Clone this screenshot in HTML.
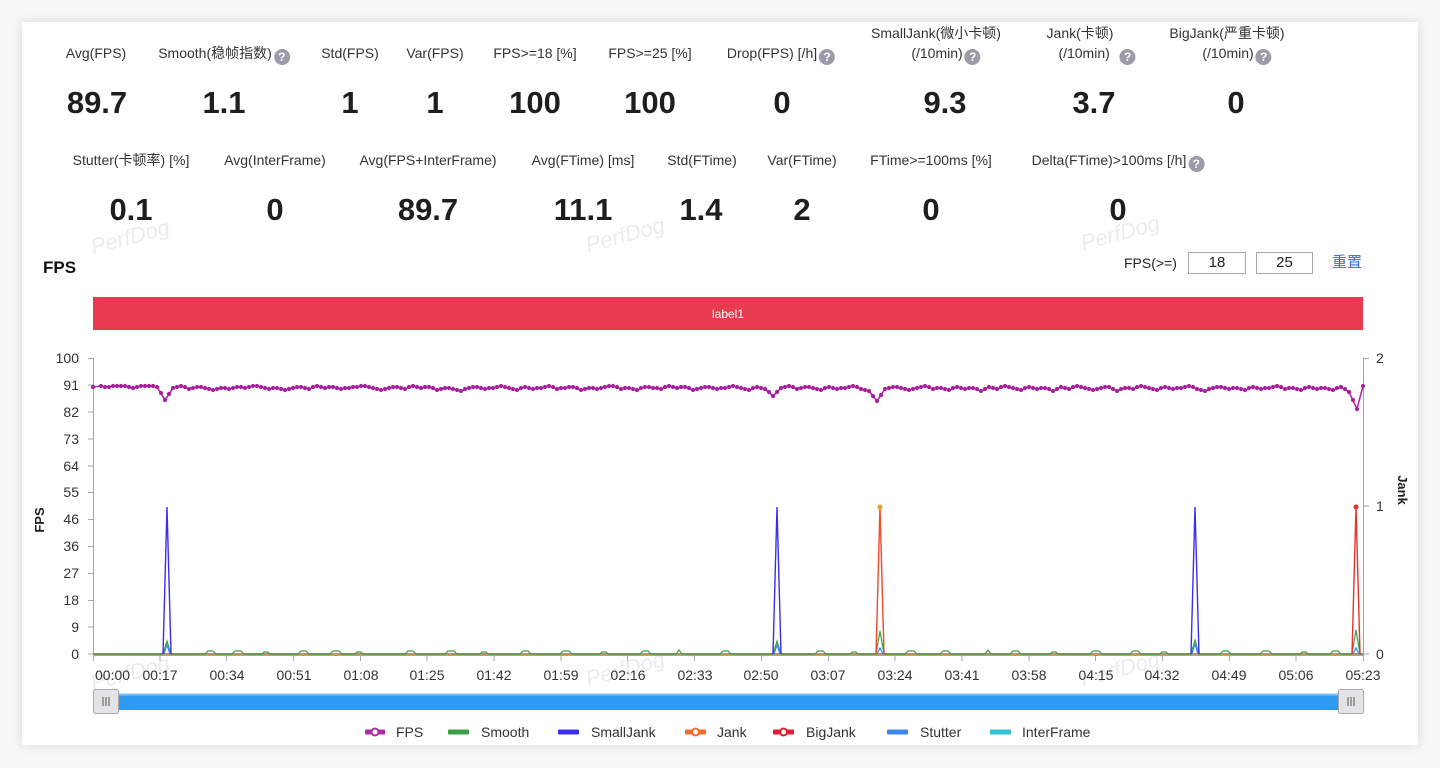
<!DOCTYPE html>
<html><head><meta charset="utf-8"><style>
html,body{margin:0;padding:0;}
body{width:1440px;height:768px;background:#f7f7f7;position:relative;overflow:hidden;font-family:"Liberation Sans","Noto Sans CJK SC",sans-serif;color:#333;}
.card{position:absolute;left:22px;top:22px;width:1396px;height:723px;background:#fff;box-shadow:0 0 10px rgba(0,0,0,0.13);}
.c{position:absolute;transform:translateX(-50%);white-space:nowrap;font-size:14px;line-height:20px;color:#333;}
.v{position:absolute;transform:translateX(-50%);white-space:nowrap;font-size:31px;line-height:36px;font-weight:bold;color:#1e1e1e;}
.q{display:inline-block;width:16px;height:16px;border-radius:50%;background:#9c9ba8;color:#fff;font-size:12px;line-height:16px;text-align:center;font-weight:bold;vertical-align:-3px;margin-left:2px;}
.inp{position:absolute;top:252px;height:20px;border:1px solid #a8a8a8;font-size:15px;line-height:20px;text-align:center;color:#222;}
svg{position:absolute;left:0;top:0;}
</style></head><body>
<div class="card"></div>

<!-- Row 1 labels -->
<div class="c" style="left:96px;top:43px">Avg(FPS)</div>
<div class="c" style="left:224px;top:43px">Smooth(稳帧指数)<span class="q">?</span></div>
<div class="c" style="left:350px;top:43px">Std(FPS)</div>
<div class="c" style="left:435px;top:43px">Var(FPS)</div>
<div class="c" style="left:535px;top:43px">FPS&gt;=18 [%]</div>
<div class="c" style="left:650px;top:43px">FPS&gt;=25 [%]</div>
<div class="c" style="left:781px;top:43px">Drop(FPS) [/h]<span class="q">?</span></div>
<div class="c" style="left:936px;top:23px">SmallJank(微小卡顿)</div>
<div class="c" style="left:946px;top:43px">(/10min)<span class="q">?</span></div>
<div class="c" style="left:1080px;top:23px">Jank(卡顿)</div>
<div class="c" style="left:1097px;top:43px">(/10min) &nbsp;<span class="q">?</span></div>
<div class="c" style="left:1227px;top:23px">BigJank(严重卡顿)</div>
<div class="c" style="left:1237px;top:43px">(/10min)<span class="q">?</span></div>

<!-- Row 1 values -->
<div class="v" style="left:97px;top:85px">89.7</div>
<div class="v" style="left:224px;top:85px">1.1</div>
<div class="v" style="left:350px;top:85px">1</div>
<div class="v" style="left:435px;top:85px">1</div>
<div class="v" style="left:535px;top:85px">100</div>
<div class="v" style="left:650px;top:85px">100</div>
<div class="v" style="left:782px;top:85px">0</div>
<div class="v" style="left:945px;top:85px">9.3</div>
<div class="v" style="left:1094px;top:85px">3.7</div>
<div class="v" style="left:1236px;top:85px">0</div>

<!-- Row 2 labels -->
<div class="c" style="left:131px;top:150px">Stutter(卡顿率) [%]</div>
<div class="c" style="left:275px;top:150px">Avg(InterFrame)</div>
<div class="c" style="left:428px;top:150px">Avg(FPS+InterFrame)</div>
<div class="c" style="left:583px;top:150px">Avg(FTime) [ms]</div>
<div class="c" style="left:702px;top:150px">Std(FTime)</div>
<div class="c" style="left:802px;top:150px">Var(FTime)</div>
<div class="c" style="left:931px;top:150px">FTime&gt;=100ms [%]</div>
<div class="c" style="left:1118px;top:150px">Delta(FTime)&gt;100ms [/h]<span class="q">?</span></div>

<!-- Row 2 values -->
<div class="v" style="left:131px;top:192px">0.1</div>
<div class="v" style="left:275px;top:192px">0</div>
<div class="v" style="left:428px;top:192px">89.7</div>
<div class="v" style="left:583px;top:192px">11.1</div>
<div class="v" style="left:701px;top:192px">1.4</div>
<div class="v" style="left:802px;top:192px">2</div>
<div class="v" style="left:931px;top:192px">0</div>
<div class="v" style="left:1118px;top:192px">0</div>

<!-- FPS title & controls -->
<div style="position:absolute;left:43px;top:257px;font-size:17px;line-height:22px;font-weight:bold;color:#111;">FPS</div>
<div style="position:absolute;left:1124px;top:253px;font-size:14px;line-height:20px;color:#222;">FPS(&gt;=)</div>
<div class="inp" style="left:1188px;width:56px;">18</div>
<div class="inp" style="left:1256px;width:55px;">25</div>
<div style="position:absolute;left:1332px;top:253px;font-size:15px;line-height:20px;color:#2d6ee0;">重置</div>

<svg width="1440" height="768" viewBox="0 0 1440 768" xmlns="http://www.w3.org/2000/svg" font-family="Liberation Sans, Noto Sans CJK SC, sans-serif">
<defs>
<marker id="m" markerWidth="6" markerHeight="6" refX="3" refY="3" markerUnits="userSpaceOnUse"><circle cx="3" cy="3" r="2.1" fill="#a8229f"/></marker>
</defs>

<!-- watermarks -->
<g fill="#ececec" font-size="22" font-style="italic">
<text transform="translate(132,244) rotate(-15)" text-anchor="middle">PerfDog</text>
<text transform="translate(627,242) rotate(-15)" text-anchor="middle">PerfDog</text>
<text transform="translate(1122,240) rotate(-15)" text-anchor="middle">PerfDog</text>
<text transform="translate(132,680) rotate(-15)" text-anchor="middle">PerfDog</text>
<text transform="translate(627,676) rotate(-15)" text-anchor="middle">PerfDog</text>
<text transform="translate(1122,676) rotate(-15)" text-anchor="middle">PerfDog</text>
</g>

<!-- label bar -->
<rect x="93" y="297" width="1270" height="33" fill="#e83b51"/>
<text x="728" y="318" text-anchor="middle" font-size="12" fill="#fff">label1</text>

<!-- axes -->
<g stroke="#a6a6a6" stroke-width="1" fill="none">
<line x1="93.5" y1="358" x2="93.5" y2="655"/>
<line x1="1363.5" y1="358" x2="1363.5" y2="655"/>
<line x1="93" y1="655.5" x2="1364" y2="655.5"/>
<path d="M88 358.5H93 M88 385H93 M88 412H93 M88 439H93 M88 466H93 M88 492.5H93 M88 519.5H93 M88 546.5H93 M88 573.5H93 M88 600.5H93 M88 627H93 M88 654H93"/>
<path d="M1364 358.5H1369 M1364 506H1369 M1364 654H1369"/>
<path d="M93.5 655V661 M160 655V661 M226.5 655V661 M293.5 655V661 M360.5 655V661 M427 655V661 M494 655V661 M561 655V661 M627.5 655V661 M694.5 655V661 M761.5 655V661 M828.5 655V661 M895 655V661 M962 655V661 M1029 655V661 M1095.5 655V661 M1162.5 655V661 M1229.5 655V661 M1296 655V661 M1363.5 655V661"/>
</g>

<!-- left y labels -->
<g font-size="14" fill="#333" text-anchor="end">
<text x="79" y="363">100</text>
<text x="79" y="390">91</text>
<text x="79" y="417">82</text>
<text x="79" y="444">73</text>
<text x="79" y="471">64</text>
<text x="79" y="497">55</text>
<text x="79" y="524">46</text>
<text x="79" y="551">36</text>
<text x="79" y="578">27</text>
<text x="79" y="605">18</text>
<text x="79" y="632">9</text>
<text x="79" y="659">0</text>
</g>
<!-- right y labels -->
<g font-size="14" fill="#333">
<text x="1376" y="363">2</text>
<text x="1376" y="511">1</text>
<text x="1376" y="659">0</text>
</g>
<text transform="translate(44,520) rotate(-90)" text-anchor="middle" font-size="13" font-weight="bold" fill="#222">FPS</text>
<text transform="translate(1398,490) rotate(90)" text-anchor="middle" font-size="13" font-weight="bold" fill="#222">Jank</text>

<!-- x labels -->
<g font-size="14" fill="#333" text-anchor="middle">
<text x="95" y="680" text-anchor="start">00:00</text>
<text x="160" y="680">00:17</text>
<text x="227" y="680">00:34</text>
<text x="294" y="680">00:51</text>
<text x="361" y="680">01:08</text>
<text x="427" y="680">01:25</text>
<text x="494" y="680">01:42</text>
<text x="561" y="680">01:59</text>
<text x="628" y="680">02:16</text>
<text x="695" y="680">02:33</text>
<text x="761" y="680">02:50</text>
<text x="828" y="680">03:07</text>
<text x="895" y="680">03:24</text>
<text x="962" y="680">03:41</text>
<text x="1029" y="680">03:58</text>
<text x="1096" y="680">04:15</text>
<text x="1162" y="680">04:32</text>
<text x="1229" y="680">04:49</text>
<text x="1296" y="680">05:06</text>
<text x="1363" y="680">05:23</text>
</g>

<!-- baseline series -->
<line x1="93" y1="654" x2="1363" y2="654" stroke="#c08e62" stroke-width="2"/>
<path fill="none" stroke="#3f9d45" stroke-width="1.2" d="M93 654 H160 L163 654 L167 641 L171 654 H205 l3 -3 h5 l3 3 H232 l3 -3 h6 l3 3 H262 l2 -2 h4 l2 2 H298 l3 -3 h5 l3 3 H330 l3 -3 h6 l3 3 H355 l2 -2 h4 l2 2 H405 l3 -3 h5 l3 3 H445 l3 -3 h6 l3 3 H480 l2 -2 h4 l2 2 H520 l3 -3 h5 l3 3 H560 l3 -3 h6 l3 3 H600 l2 -2 h4 l2 2 H640 l3 -3 h5 l3 3 H676 l3 -4 l3 4 H720 l3 -3 h5 l3 3 H773 L777 641 L781 654 H815 l3 -3 h5 l3 3 H850 l2 -2 h4 l2 2 H876 L880 631 L884 654 H905 l3 -3 h6 l3 3 H940 l3 -3 h5 l3 3 H985 l3 -4 l3 4 H1010 l3 -3 h5 l3 3 H1050 l2 -2 h4 l2 2 H1090 l3 -3 h6 l3 3 H1130 l3 -3 h5 l3 3 H1160 l2 -2 h4 l2 2 H1191 L1195 640 L1199 654 H1220 l3 -3 h5 l3 3 H1260 l3 -3 h6 l3 3 H1300 l2 -2 h4 l2 2 H1330 l3 -3 h5 l3 3 H1352 L1356 630 L1360 654 H1363"/>
<!-- stutter bumps -->
<path fill="none" stroke="#3e86f0" stroke-width="1.2" d="M164 654 L167 645 L170 654 M774 654 L777 645 L780 654 M877 654 L880 648 L883 654 M1192 654 L1195 644 L1198 654 M1353 654 L1356 648 L1359 654"/>
<!-- SmallJank spikes -->
<path fill="none" stroke="#3a2fee" stroke-width="1.4" d="M163 654 L167 507 L171 654 M773 654 L777 507 L781 654 M1191 654 L1195 507 L1199 654"/>
<!-- Jank spikes -->
<path fill="none" stroke="#ee4a2c" stroke-width="1.4" d="M876 654 L880 507 L884 654"/>
<path fill="none" stroke="#e5332e" stroke-width="1.4" d="M1352 654 L1356 507 L1360 654"/>
<circle cx="880" cy="507" r="2.5" fill="#f39a2c"/>
<circle cx="1356" cy="507" r="2.5" fill="#e3302c"/>

<!-- FPS line -->
<polyline fill="none" stroke="#b22aa8" stroke-width="1.6" marker-start="url(#m)" marker-mid="url(#m)" marker-end="url(#m)" points="93,387 101,386 109,387 117,386 125,386 133,388 141,386 149,386 157,387 165,400 173,388 181,386 189,389 197,387 205,388 213,390 221,388 229,389 237,387 245,388 253,386 261,387 269,389 277,388 285,390 293,388 301,387 309,389 317,386 325,388 333,387 341,389 349,388 357,387 365,386 373,388 381,390 389,388 397,387 405,389 413,386 421,388 429,387 437,390 445,388 453,389 461,391 469,388 477,387 485,389 493,388 501,386 509,388 517,390 525,387 533,389 541,388 549,386 557,389 565,388 573,387 581,390 589,388 597,389 605,387 613,386 621,389 629,388 637,390 645,387 653,388 661,389 669,386 677,388 685,387 693,390 701,388 709,387 717,389 725,388 733,386 741,388 749,390 757,387 765,389 773,396 781,388 789,386 797,389 805,387 813,388 821,390 829,387 837,389 845,388 853,386 861,389 869,391 877,401 885,389 893,387 901,388 909,390 917,388 925,386 933,389 941,388 949,390 957,387 965,389 973,388 981,391 989,387 997,389 1005,386 1013,388 1021,390 1029,387 1037,389 1045,388 1053,391 1061,387 1069,389 1077,386 1085,388 1093,390 1101,388 1109,387 1117,391 1125,388 1133,389 1141,386 1149,388 1157,390 1165,387 1173,389 1181,388 1189,386 1197,389 1205,391 1213,388 1221,387 1229,389 1237,388 1245,390 1253,387 1261,389 1269,388 1277,386 1285,389 1293,388 1301,390 1309,387 1317,389 1325,388 1333,390 1341,387 1349,392 1357,409 1363,386"/>
<polyline fill="none" stroke="none" marker-mid="url(#m)" points="97,386 105,387 113,386 121,386 129,387 137,387 145,386 153,386 161,393 169,394 177,387 185,387 193,388 201,387 209,389 217,389 225,388 233,388 241,387 249,387 257,386 265,388 273,388 281,389 289,389 297,387 305,388 313,387 321,387 329,387 337,388 345,388 353,387 361,386 369,387 377,389 385,389 393,387 401,388 409,387 417,387 425,387 433,388 441,389 449,388 457,390 465,389 473,387 481,388 489,388 497,387 505,387 513,389 521,388 529,388 537,388 545,387 553,387 561,388 569,387 577,388 585,389 593,388 601,388 609,386 617,387 625,388 633,389 641,388 649,387 657,388 665,387 673,387 681,387 689,388 697,389 705,387 713,388 721,388 729,387 737,387 745,389 753,388 761,388 769,392 777,392 785,387 793,387 801,388 809,387 817,389 825,388 833,388 841,388 849,387 857,387 865,390 873,396 881,395 889,388 897,387 905,389 913,389 921,387 929,387 937,388 945,389 953,388 961,388 969,388 977,389 985,389 993,388 1001,387 1009,387 1017,389 1025,388 1033,388 1041,388 1049,389 1057,389 1065,388 1073,387 1081,387 1089,389 1097,389 1105,387 1113,389 1121,389 1129,388 1137,387 1145,387 1153,389 1161,388 1169,388 1177,388 1185,387 1193,387 1201,390 1209,389 1217,387 1225,388 1233,388 1241,389 1249,388 1257,388 1265,388 1273,387 1281,387 1289,388 1297,389 1305,388 1313,388 1321,388 1329,389 1337,388 1345,389 1353,400 1360,397"/>

<!-- slider -->
<rect x="118" y="693.5" width="1221" height="16.5" fill="#2e9bf0"/>
<rect x="118" y="693.5" width="1221" height="2" fill="#7cc2f6"/>
<rect x="93.5" y="689.5" width="25" height="24" rx="2" fill="#e4e4e6" stroke="#a9a9ad"/>
<rect x="1338.5" y="689.5" width="25" height="24" rx="2" fill="#e4e4e6" stroke="#a9a9ad"/>
<g stroke="#777" stroke-width="1.3">
<path d="M103 697V706 M106 697V706 M109 697V706"/>
<path d="M1348 697V706 M1351 697V706 M1354 697V706"/>
</g>

<!-- legend -->
<g font-size="14" fill="#333">
<rect x="365" y="729.5" width="20" height="5" rx="1" fill="#b02ba6"/>
<circle cx="375" cy="732" r="3.5" fill="#fff" stroke="#b02ba6" stroke-width="2"/>
<text x="396" y="737">FPS</text>
<rect x="448" y="729.5" width="21" height="5" rx="1" fill="#3d9e46"/>
<text x="481" y="737">Smooth</text>
<rect x="558" y="729.5" width="21" height="5" rx="1" fill="#3c30ee"/>
<text x="591" y="737">SmallJank</text>
<rect x="685" y="729.5" width="21" height="5" rx="1" fill="#f26b2c"/>
<circle cx="695.5" cy="732" r="3.5" fill="#fff" stroke="#f26b2c" stroke-width="2"/>
<text x="717" y="737">Jank</text>
<rect x="773" y="729.5" width="21" height="5" rx="1" fill="#dc1f32"/>
<circle cx="783.5" cy="732" r="3.5" fill="#fff" stroke="#dc1f32" stroke-width="2"/>
<text x="806" y="737">BigJank</text>
<rect x="887" y="729.5" width="21" height="5" rx="1" fill="#3f86ee"/>
<text x="920" y="737">Stutter</text>
<rect x="990" y="729.5" width="21" height="5" rx="1" fill="#32c2d6"/>
<text x="1022" y="737">InterFrame</text>
</g>
</svg>
</body></html>
